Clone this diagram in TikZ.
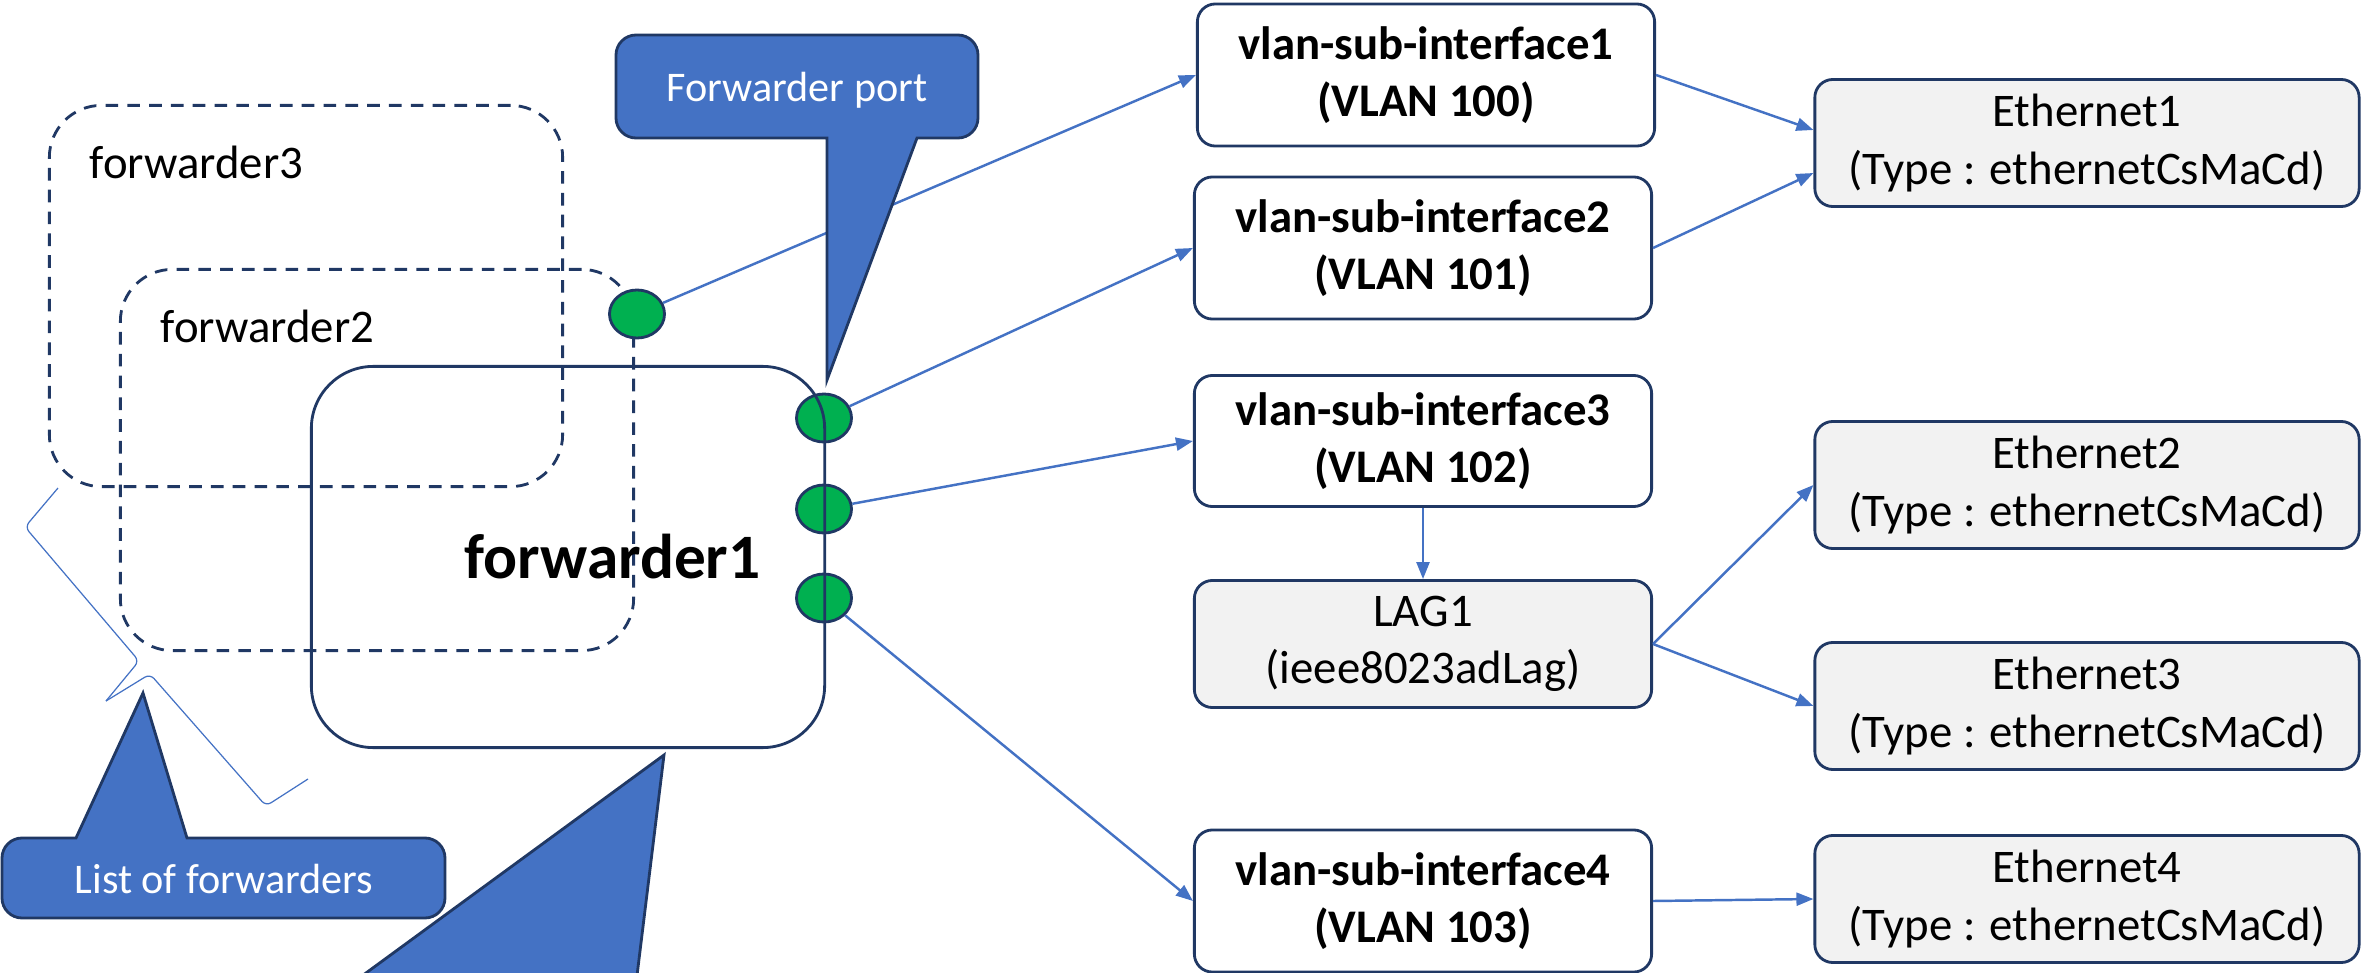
\documentclass[tikz,border=0pt]{standalone}
\usepackage{fontspec}
\setmainfont{Carlito}
\usetikzlibrary{arrows.meta,shapes.geometric}
\definecolor{navy}{HTML}{203864}
\definecolor{cblue}{HTML}{4472C4}
\definecolor{pgreen}{HTML}{00B050}
\definecolor{boxgray}{HTML}{F2F2F2}
\newcommand{\ethtype}{(Type : ethernetCsMaCd)}

\begin{document}
\begin{tikzpicture}[x=0.01cm,y=-0.01cm]
                        \tikzstyle{fwd}=[draw=navy, line width=0.8pt, dash pattern=on 3.6pt off 2.6pt, rounded corners=0.52cm, minimum width=5.13cm, minimum height=3.81cm, inner sep=0pt]
                        \tikzstyle{fwdmain}=[fwd, solid, rounded corners=0.62cm]
                        \tikzstyle{fwdlabel}=[anchor=base west, inner sep=0pt, font=\fontsize{13.3}{16}\selectfont]
                        \tikzstyle{port}=[ellipse, draw=navy, line width=0.8pt, fill=pgreen, minimum width=0.55cm, minimum height=0.48cm, inner sep=0pt]
                        \tikzstyle{vlanbox}=[draw=navy, line width=0.8pt, fill=white, rounded corners=0.18cm, minimum width=4.57cm, minimum height=1.42cm, align=center, font=\fontsize{13.3}{16.3}\selectfont\bfseries]
                        \tikzstyle{ethbox}=[vlanbox, fill=boxgray, minimum width=5.44cm, minimum height=1.27cm, font=\fontsize{13.3}{16.3}\selectfont]
                        \tikzstyle{link}=[draw=cblue, line width=0.7pt, -{Triangle[length=0.17cm, width=0.13cm]}]
                        \tikzstyle{brace}=[draw=cblue, line width=0.35pt, rounded corners=0.06cm]
                        \tikzstyle{callout}=[fill=cblue, draw=navy, line width=0.8pt]
                        \tikzstyle{callouttext}=[anchor=base, inner sep=0pt, text=white, font=\fontsize{12}{14}\selectfont]
                        \clip (0,0) rectangle (2369,973);
                        \node[fwd] (f3) at (306,296) {};
                        \node[fwdlabel] (f3label) at (89,179) {forwarder3};
                        \node[fwd] (f2) at (377,460) {};
                        \node[fwdlabel] (f2label) at (160,342) {forwarder2};
                        \node[port] (p0) at (637,314) {};
                        \node[port] (p1) at (824,418) {};
                        \node[port] (p2) at (824,509) {};
                        \node[port] (p3) at (824,598) {};
                        \node[fwdmain] (f1) at (568,557) {};
                        \node[fwdlabel, font=\fontsize{18}{22}\selectfont\bfseries] (f1label) at (464,578) {forwarder1};
                        \node[vlanbox] (vlan1) at (1426,75) {vlan-sub-interface1\\(VLAN 100)};
                        \node[vlanbox] (vlan2) at (1423,248) {vlan-sub-interface2\\(VLAN 101)};
                        \node[vlanbox, minimum height=1.31cm] (vlan3) at (1423,441) {vlan-sub-interface3\\(VLAN 102)};
                        \node[ethbox, minimum width=4.57cm] (lag1) at (1423,644) {LAG1\\(ieee8023adLag)};
                        \node[vlanbox] (vlan4) at (1423,901) {vlan-sub-interface4\\(VLAN 103)};
                        \node[ethbox] (eth1) at (2087,143) {Ethernet1\\\ethtype};
                        \node[ethbox] (eth2) at (2087,485) {Ethernet2\\\ethtype};
                        \node[ethbox] (eth3) at (2087,706) {Ethernet3\\\ethtype};
                        \node[ethbox] (eth4) at (2087,899) {Ethernet4\\\ethtype};
                        \draw[link] (p0) -- (vlan1.west);
                        \draw[link] (p1) -- (vlan2.west);
                        \draw[link] (p2) -- (vlan3.west);
                        \draw[link] (p3) -- (vlan4.west);
                        \draw[link] (vlan1.east) -- ([yshift=0.13cm]eth1.west);
                        \draw[link] (vlan2.east) -- ([yshift=-0.30cm]eth1.west);
                        \draw[link] (vlan3.south) -- (lag1.north);
                        \draw[link] (lag1.east) -- (eth2.west);
                        \draw[link] (lag1.east) -- (eth3.west);
                        \draw[link] (vlan4.east) -- (eth4.west);
                        \draw[brace] (58,488) -- (25,527) -- (139,661) -- (106,701);
                        \draw[brace] (106,701) -- (150,674) -- (266,806) -- (308,779);
                        \filldraw[callout] (827,138) -- (827,380) -- (917,138) -- (940,138) [rounded corners=0.2cm] -- (978,138) -- (978,35) -- (616,35) -- (616,138) -- (700,138) [sharp corners] -- cycle;
                        \node[callouttext] (fwdport) at (797,102) {Forwarder port};
                        \filldraw[callout] (187,838) -- (143,693) -- (76,838) -- (50,838) [rounded corners=0.2cm] -- (2,838) -- (2,918) -- (445,918) -- (445,838) -- (300,838) [sharp corners] -- cycle;
                        \node[callouttext] (fwdlist) at (224,893) {List of forwarders};
                        \filldraw[callout] (664,755) -- (340,992) -- (635,992) -- cycle;
                    \end{tikzpicture}
\end{document}
